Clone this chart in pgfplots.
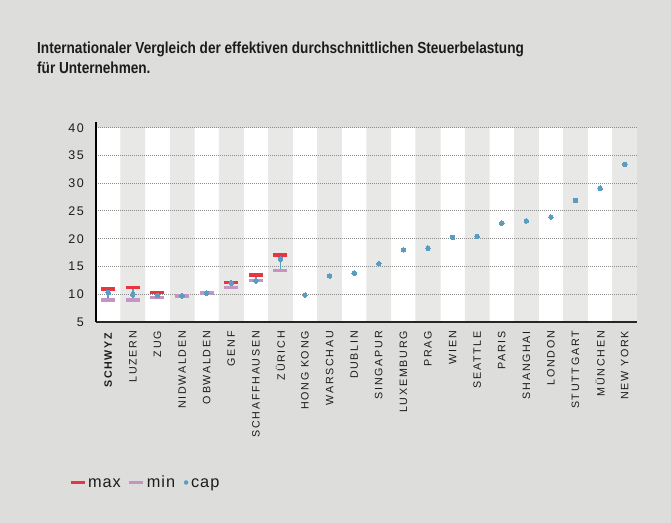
\documentclass[border=0pt]{standalone}
\usepackage{pgfplots}
\usepackage{pgfplotstable}
\pgfplotsset{compat=1.18}
\usepackage{fontspec}
\setmainfont{Liberation Sans}
\newfontfamily\titlefont[FakeStretch=0.85]{Liberation Sans}
\newfontfamily\tickfont[LetterSpace=12]{Liberation Sans}
\newfontfamily\xlabfont[LetterSpace=16]{Liberation Sans}
\newfontfamily\legfont[LetterSpace=6]{Liberation Sans}
\definecolor{bg}{HTML}{DDDDDC}
\definecolor{band}{HTML}{E8E8E7}
\definecolor{maxred}{HTML}{E8353F}
\definecolor{minpurple}{HTML}{C495C4}
\definecolor{capblue}{HTML}{5B9DC0}
\definecolor{txt}{HTML}{1C1C1C}
\pagecolor{bg}

\pgfplotstableread{
x max min cap ep em
0 10.9 9.0 10.3 0.45 0.9
1 11.2 9.0 10.0 0.75 0.7
2 10.3 9.4 9.75 0.2 0.2
3 9.7 9.7 9.7 0.1 0.1
4 10.2 10.2 10.2 0.1 0.1
5 12.1 11.2 12.0 0.2 0.2
6 13.5 12.45 12.45 0.25 0.25
7 17.1 14.25 16.3 0.35 1.6
}\swiss

\pgfplotstableread{
x cap
8 9.85
9 13.3
10 13.8
11 15.5
12 18.0
13 18.3
14 20.25
15 20.4
16 22.8
17 23.2
18 23.9
19 26.9
20 29.1
21 33.4
}\cities

\begin{document}
\begin{tikzpicture}
\path (0,0) rectangle (671bp,523bp);
\node[anchor=base west, inner sep=0pt, text=txt, font=\titlefont\bfseries\fontsize{16bp}{19bp}\selectfont] at (37bp,469bp) {Internationaler Vergleich der effektiven durchschnittlichen Steuerbelastung};
\node[anchor=base west, inner sep=0pt, text=txt, font=\titlefont\bfseries\fontsize{16bp}{19bp}\selectfont] at (37bp,449.7bp) {für Unternehmen.};
\begin{axis}[
  set layers,
  at={(96bp,201bp)}, anchor=south west,
  scale only axis, width=541bp, height=200.4bp,
  xmin=-0.5, xmax=21.5, ymin=5, ymax=41.1,
  axis x line*=bottom, axis y line*=left,
  axis line style={-},
  x axis line style={line width=1.4bp, color=black!85},
  y axis line style={line width=1.3bp, color=black},
  major tick length=0pt,
  /pgf/number format/assume math mode=true,
  ytick={5,10,...,40},
  xtick={0,...,21},
  xticklabels={\textbf{SCHWYZ},LUZERN,ZUG,NIDWALDEN,OBWALDEN,GENF,SCHAFFHAUSEN,ZÜRICH,HONG KONG,WARSCHAU,DUBLIN,SINGAPUR,LUXEMBURG,PRAG,WIEN,SEATTLE,PARIS,SHANGHAI,LONDON,STUTTGART,MÜNCHEN,NEW YORK},
  xticklabel style={yshift=-9bp, rotate=90, anchor=east, inner sep=0pt, text=txt, font=\xlabfont\fontsize{10.7bp}{12bp}\selectfont},
  yticklabel style={xshift=-12bp, anchor=east, inner sep=0pt, text=txt, font=\tickfont\fontsize{12.5bp}{14bp}\selectfont},
  ymajorgrids,
  grid style={dash pattern=on 1bp off 1bp, color=black!45, line width=1bp},
  legend columns=-1,
  legend style={at={(-0.05,-0.8)}, anchor=west, draw=none, fill=none, inner sep=0pt,
    nodes={inner sep=1bp, text=txt, anchor=base west}, font=\legfont\fontsize{16.3bp}{18bp}\selectfont,
    /tikz/every odd column/.append style={column sep=1bp},
    /tikz/every even column/.append style={column sep=6bp}},
]
\addplot[ybar, bar width=1, fill=white, draw=none, on layer=axis background, forget plot]
  coordinates {(0,40) (2,40) (4,40) (6,40) (8,40) (10,40) (12,40) (14,40) (16,40) (18,40) (20,40)};
\addplot[ybar, bar width=1, fill=band, draw=none, on layer=axis background, forget plot]
  coordinates {(1,40) (3,40) (5,40) (7,40) (9,40) (11,40) (13,40) (15,40) (17,40) (19,40) (21,40)};

\addplot[only marks, mark=-, mark size=7bp, mark options={line width=3.5bp, draw=maxred},
  legend image code/.code={\draw[draw=maxred, line width=3bp] (0bp,5bp) -- (14bp,5bp);}]
  table[x=x, y=max] {\swiss};
\addlegendentry{max}
\addplot[only marks, mark=-, mark size=7bp, mark options={line width=3.5bp, draw=minpurple},
  legend image code/.code={\draw[draw=minpurple, line width=3bp] (0bp,5bp) -- (14bp,5bp);}]
  table[x=x, y=min] {\swiss};
\addlegendentry{min}
\addplot[only marks, mark=*, mark size=2.3bp, mark options={fill=capblue, draw=capblue, line width=0pt},
  error bars/.cd, y dir=both, y explicit,
  error bar style={line width=1.6bp, color=capblue},
  error mark options={line width=1.6bp, mark size=2bp, color=capblue},
  /pgfplots/legend image code/.code={\fill[capblue] (4bp,5bp) circle (2bp); \path[draw=none] (0bp,5bp) (7bp,5bp);}]
  table[x=x, y=cap, y error plus=ep, y error minus=em] {\swiss};
\addlegendentry{cap}
\addplot[only marks, mark=*, mark size=2.3bp, mark options={fill=capblue, draw=capblue, line width=0pt}, forget plot]
  table[x=x, y=cap] {\cities};
\end{axis}
\end{tikzpicture}
\end{document}
